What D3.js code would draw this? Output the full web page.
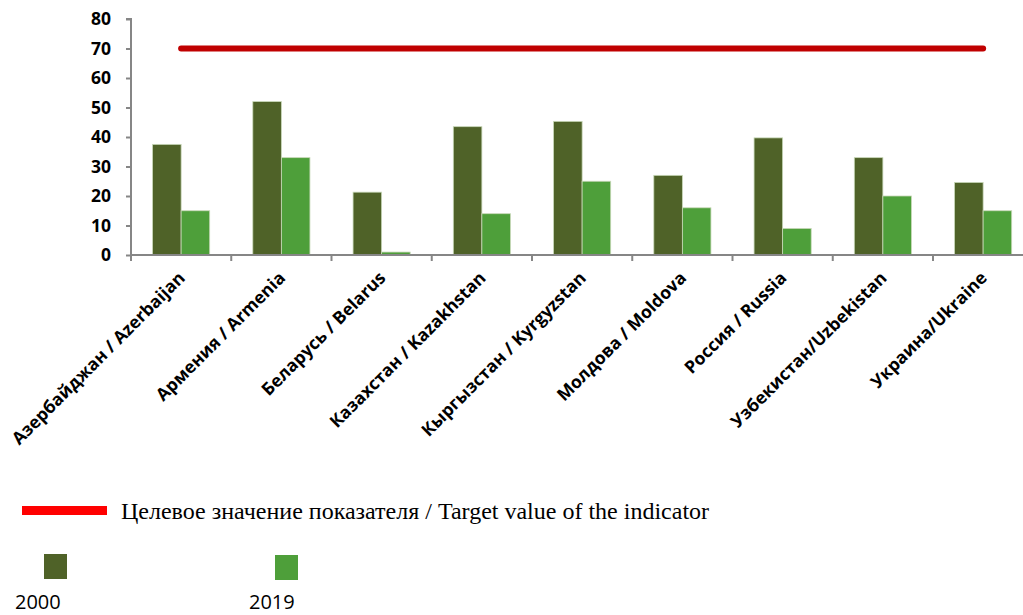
<!DOCTYPE html>
<html>
<head>
<meta charset="utf-8">
<script src="https://cdn.jsdelivr.net/npm/d3@7"></script>
<style>
  body { margin: 0; background: #fff; }
  svg { display: block; }
</style>
</head>
<body>
<div id="chart"></div>
<script>
// data
const countries = [
    "Азербайджан / Azerbaijan", "Армения / Armenia", "Беларусь / Belarus",
    "Казахстан / Kazakhstan", "Кыргызстан / Kyrgyzstan", "Молдова / Moldova",
    "Россия / Russia", "Узбекистан/Uzbekistan", "Украина/Ukraine"
];
const values2000 = [37.5, 52, 21.3, 43.5, 45.3, 27, 39.7, 33, 24.6];
const values2019 = [15, 33, 1, 14, 25, 16, 9, 20, 15];
const target = 70;
const yTicks = [0, 10, 20, 30, 40, 50, 60, 70, 80];
const seriesNames = ["2000", "2019"];
const colors = ["#4f6228", "#4e9f3a"];

const width = 1023, height = 615;
const margin = {top: 19, left: 131, bottom: 360};
const plotH = height - margin.top - margin.bottom; // 236
const step = 100.25;

const svg = d3.select("#chart").append("svg")
    .attr("width", width)
    .attr("height", height);

let xScale = d3.scaleBand().domain(countries)
    .range([margin.left, margin.left + step * countries.length])
    .paddingInner(0).paddingOuter(0);
let xInner = d3.scaleBand().domain(seriesNames).range([0, step]).paddingOuter(0.755);
let yScale = d3.scaleLinear().domain([0, 80]).range([margin.top + plotH, margin.top]);

// bars
const rows = countries.map((c, i) => ({country: c, vals: [values2000[i], values2019[i]]}));
svg.append("g").selectAll("g")
    .data(rows)
    .enter().append("g")
        .attr("transform", (d) => "translate(" + xScale(d.country) + ",0)")
    .selectAll("rect")
    .data((d) => d.vals.map((v, k) => ({name: seriesNames[k], value: v, k: k})))
    .enter().append("rect")
        .attr("x", (d) => xInner(d.name))
        .attr("width", xInner.bandwidth())
        .attr("y", (d) => yScale(d.value))
        .attr("height", (d) => yScale(0) - yScale(d.value))
        .attr("fill", (d) => colors[d.k])
        .attr("stroke", "#c8d8b8")
        .attr("stroke-width", 0.8);

// axes
let yAxis = d3.axisLeft(yScale).tickValues(yTicks).tickSize(5).tickPadding(15).tickFormat(d3.format("d"));
let yG = svg.append("g").attr("transform", "translate(" + margin.left + ",0)").call(yAxis);
yG.select(".domain").attr("stroke", "#868686").attr("stroke-width", 2).attr("d", "M-5," + yScale(80) + "H0V" + yScale(0));
yG.selectAll(".tick line").attr("stroke", "#868686").attr("stroke-width", 2);
yG.selectAll(".tick text")
    .attr("fill", "#000")
    .style("font-family", "'Open Sans', sans-serif")
    .style("font-weight", "bold")
    .style("font-size", "17.5px");

const axisY = yScale(0);
svg.append("line")
    .attr("x1", margin.left).attr("x2", width)
    .attr("y1", axisY).attr("y2", axisY)
    .attr("stroke", "#868686").attr("stroke-width", 2);
const tickXs = countries.map((c) => xScale(c)).concat([xScale(countries[countries.length - 1]) + step]);
svg.append("g").selectAll("line")
    .data(tickXs)
    .enter().append("line")
        .attr("x1", (d) => d).attr("x2", (d) => d)
        .attr("y1", axisY).attr("y2", axisY + 6)
        .attr("stroke", "#868686").attr("stroke-width", 2);

// rotated category labels
svg.append("g").selectAll("text")
    .data(countries)
    .enter().append("text")
        .attr("transform", (d) => "translate(" + (xScale(d) + step / 2 + 5) + "," + (axisY + 24) + ") rotate(-45)")
        .attr("text-anchor", "end")
        .style("font-family", "'Open Sans', sans-serif")
        .style("font-weight", "bold")
        .style("font-size", "17.5px")
        .text((d) => d);

// target line
svg.append("line")
    .attr("x1", xScale(countries[0]) + step / 2)
    .attr("x2", xScale(countries[countries.length - 1]) + step / 2)
    .attr("y1", yScale(target)).attr("y2", yScale(target))
    .attr("stroke", "#c00000").attr("stroke-width", 6)
    .attr("stroke-linecap", "round");

// legend
svg.append("rect").attr("x", 22).attr("y", 506).attr("width", 85).attr("height", 9).attr("fill", "#ff0000");
svg.append("text")
    .attr("x", 121).attr("y", 519)
    .style("font-family", "'Liberation Serif', serif")
    .style("font-size", "24px")
    .text("Целевое значение показателя / Target value of the indicator");

const legendX = [[44, 15], [275, 249]];
seriesNames.forEach((name, k) => {
    svg.append("rect")
        .attr("x", legendX[k][0]).attr("y", 554 + k)
        .attr("width", 23).attr("height", 25)
        .attr("fill", colors[k]);
    svg.append("text")
        .attr("x", legendX[k][1]).attr("y", 609)
        .style("font-family", "'Open Sans', sans-serif")
        .style("font-size", "20px")
        .text(name);
});
</script>
</body>
</html>
